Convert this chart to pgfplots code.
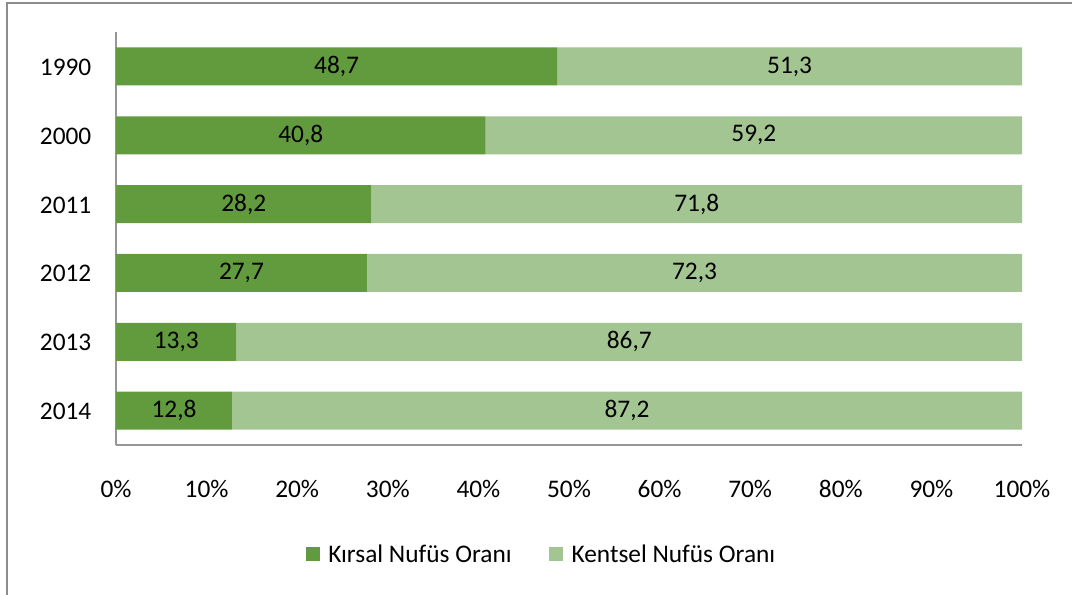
\documentclass[border=0pt]{standalone}
\usepackage{pgfplots}
\pgfplotsset{compat=1.18}
\usepackage{pgfplotstable}
\usepackage{fontspec}
\setmainfont{Carlito}
\definecolor{dk}{RGB}{98,154,62}
\definecolor{lt}{RGB}{162,197,145}
\definecolor{framec}{RGB}{140,140,140}
\definecolor{axg}{RGB}{150,150,150}
\pgfplotstableread{
y k u
0 48.7 51.3
1 40.8 59.2
2 28.2 71.8
3 27.7 72.3
4 13.3 86.7
5 12.8 87.2
}\data
\begin{document}
\begin{tikzpicture}
\path[use as bounding box] (0pt,0pt) rectangle (804pt,446.25pt);
\draw[framec,line width=1.5pt] (5.25pt,-20pt) -- (5.25pt,444pt) -- (820pt,444pt);
\begin{axis}[
  at={(87pt,112.5pt)}, anchor=south west,
  scale only axis, width=679.5pt, height=309.75pt,
  xbar stacked, bar width=28.5pt,
  xmin=0, xmax=100, ymin=-0.5, ymax=5.5, y dir=reverse,
  ytick={0,...,5}, yticklabels={\mbox{1990},\mbox{2000},\mbox{2011},\mbox{2012},\mbox{2013},\mbox{2014}},
  xtick={0,10,...,100},
  xticklabel={\pgfmathprintnumber{\tick}\%},
  /pgf/number format/assume math mode=true,
  axis x line*=bottom, axis y line*=left,
  axis line style={axg, line width=1pt, -},
  major tick length=0pt,
  tick label style={font=\fontsize{19}{23}\selectfont, text=black},
  xticklabel style={anchor=base, yshift=-39.75pt},
  yticklabel style={anchor=base east, xshift=-15pt, yshift=-6.75pt},
  legend style={at={(0.470,-0.266)}, anchor=center, draw=none, fill=none,
    legend columns=2, font=\fontsize{19}{23}\selectfont,
    /tikz/every odd column/.append style={column sep=4.5pt},
    /tikz/every even column/.append style={column sep=26pt}},
  legend image code/.code={\fill[#1,draw=none] (0pt,-4.5pt) rectangle (10.5pt,6pt);},
  nodes near coords={\pgfmathprintnumber[use comma,fixed,precision=1,fixed zerofill,assume math mode=true]{\rawv}},
  every node near coord/.append style={anchor=center, font=\fontsize{19}{23}\selectfont, text=black},
]
\addplot[fill=dk, draw=none, visualization depends on={\thisrow{k}\as\rawv}] table[x=k,y=y]{\data};
\addplot[fill=lt, draw=none, visualization depends on={\thisrow{u}\as\rawv}] table[x=u,y=y]{\data};
\legend{Kırsal Nufüs Oranı, Kentsel Nufüs Oranı}
\end{axis}
\end{tikzpicture}
\end{document}
